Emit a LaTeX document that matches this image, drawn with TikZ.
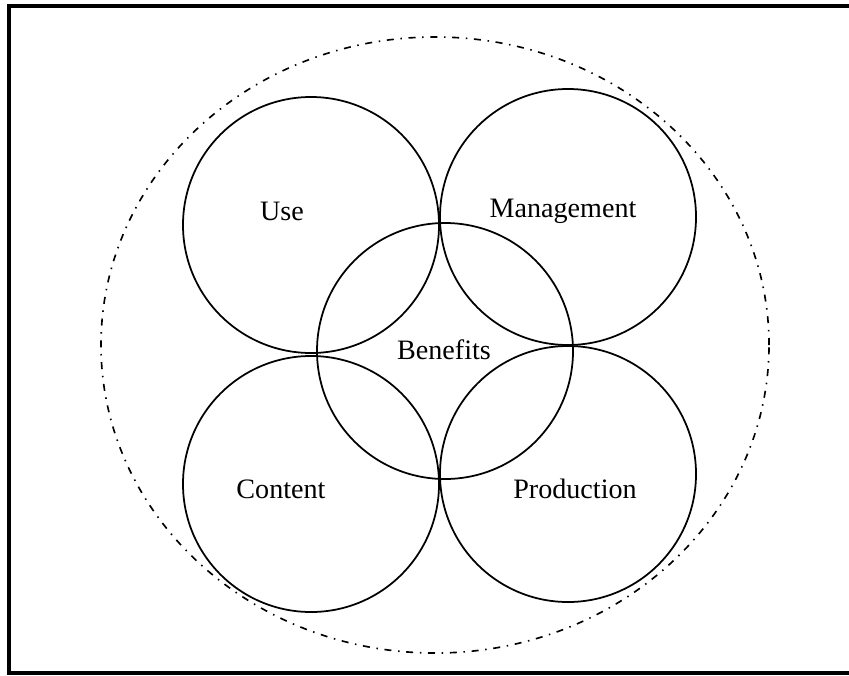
\documentclass[tikz,border=0pt]{standalone}
\usepackage{fontspec}
\setmainfont{Liberation Serif}

\begin{document}
\begin{tikzpicture}[x=0.03cm,y=-0.03cm,
  ring/.style={circle,draw,line width=1.5pt,minimum size=7.68cm,inner sep=0pt},
  word/.style={font=\fontsize{24}{28}\selectfont}]
  \useasboundingbox (0,0) rectangle (849,675);
  \draw[line width=2.6pt] (9,6) rectangle (856,673);
  \coordinate (mid) at (435,345);
  \draw[line width=1.4pt,dash pattern=on 0.21cm off 0.2cm on 0.045cm off 0.2cm]
    (mid) ellipse [x radius=10.02cm, y radius=9.24cm];
  \node[ring] (use) at (311,225) {};
  \node[ring] (mgmt) at (568,217) {};
  \node[ring] (cont) at (311,484) {};
  \node[ring] (prod) at (568,474) {};
  \node[ring] (ben) at (445,351) {};
  \node[word] (t1) at (282,211) {Use};
  \node[word] (t2) at (563,211) {Management};
  \node[word] (t3) at (444,350) {Benefits};
  \node[word] (t4) at (281,489) {Content};
  \node[word] (t5) at (575,489) {Production};
\end{tikzpicture}
\end{document}
